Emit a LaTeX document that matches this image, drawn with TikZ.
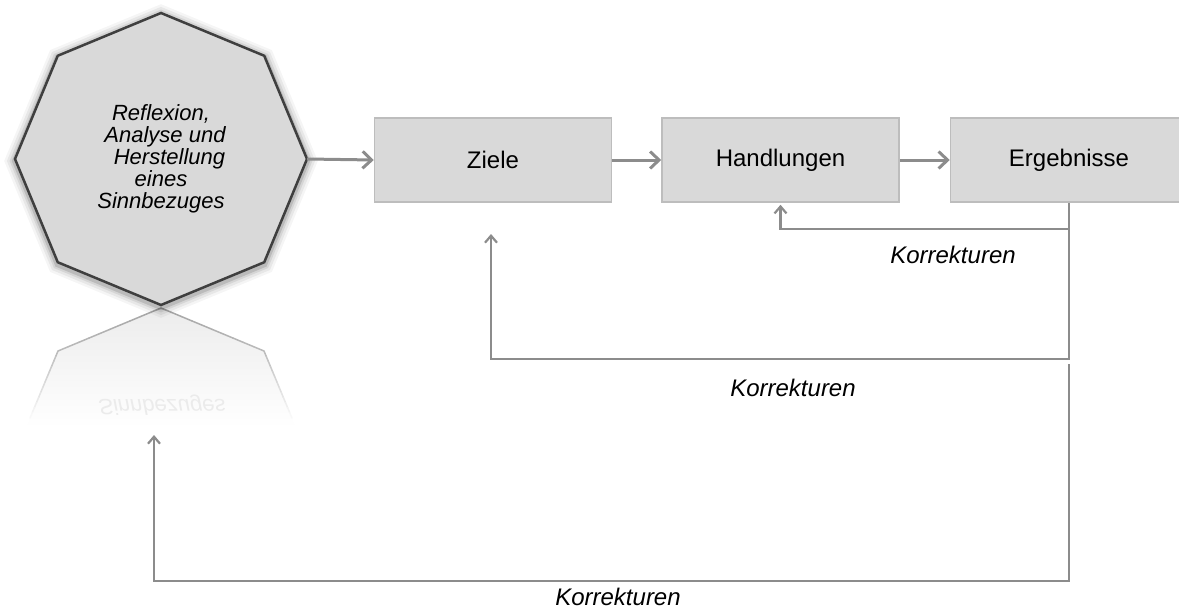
\documentclass[tikz,border=0pt]{standalone}
\usepackage{fontspec}
\setmainfont{Liberation Sans}
\usetikzlibrary{arrows.meta,shapes.geometric}
\definecolor{boxfill}{HTML}{D9D9D9}
\definecolor{boxline}{HTML}{BDBDBD}
\definecolor{arr}{HTML}{8C8C8C}
\definecolor{octline}{HTML}{3F3F3F}
\definecolor{reflline}{HTML}{A0A0A0}
\definecolor{reflfill}{HTML}{ECECEC}
\definecolor{refltext}{HTML}{EBEBEB}
\begin{document}
\begin{tikzpicture}[x=1pt,y=-1pt,
  octo/.style={regular polygon, regular polygon sides=8, shape border rotate=22.5,
    minimum size=292pt, inner sep=0pt, outer sep=0pt},
  stepbox/.style={draw=boxline, line width=1.5pt, fill=boxfill, minimum width=237pt,
    minimum height=84pt, inner sep=0pt, font=\fontsize{24}{28}\selectfont},
  mainarrow/.style={draw=arr, line width=3pt, -{Straight Barb[length=9pt,width=17pt]}},
  fb/.style={draw=arr, line width=2.2pt, -{Straight Barb[length=7pt,width=12pt]}},
  korr/.style={font=\fontsize{24}{28}\selectfont\itshape, inner sep=0pt}]
\useasboundingbox (0,0) rectangle (1179,610);

% reflection of the octagon
\begin{scope}
  \clip (161,308) -- (264,351) -- (307,454) -- (264,557) -- (161,600) -- (58,557) -- (15,454) -- (58,351) -- cycle;
  \shade[top color=reflfill, bottom color=white] (0,308) rectangle (330,428);
\end{scope}
\foreach \t in {0,0.1,...,0.95}{
  \pgfmathsetmacro\pc{95-25*\t}
  \draw[reflline!\pc!white, line width=1.5pt, line cap=round]
    ({161-103*\t},{308+43*\t}) -- ({161-103*(\t+0.1)},{308+43*(\t+0.1)});
  \draw[reflline!\pc!white, line width=1.5pt, line cap=round]
    ({161+103*\t},{308+43*\t}) -- ({161+103*(\t+0.1)},{308+43*(\t+0.1)});
}
\foreach \t in {0,0.05,...,0.64}{
  \pgfmathsetmacro\pc{max(0,70-105*\t)}
  \draw[reflline!\pc!white, line width=1.5pt, line cap=round]
    ({58-43*\t},{351+103*\t}) -- ({58-43*(\t+0.05)},{351+103*(\t+0.05)});
  \draw[reflline!\pc!white, line width=1.5pt, line cap=round]
    ({264+43*\t},{351+103*\t}) -- ({264+43*(\t+0.05)},{351+103*(\t+0.05)});
}
\node[yscale=-1, text=refltext, inner sep=0pt, font=\fontsize{22}{22}\selectfont\itshape] (refl) at (162,405) {Sinnbezuges};

% shadow of octagon
\foreach \w/\o in {20/0.04, 15/0.06, 10/0.08, 6/0.12}
  \node[octo, draw=black, draw opacity=\o, line width=\w pt] at (161,161) {};

% octagon
\node[octo, draw=octline, line width=2.5pt, fill=boxfill, align=center,
  font=\fontsize{22}{22}\selectfont\itshape] (oct) at (161,159)
  {Reflexion,\\\hspace*{8pt}Analyse und\\\hspace*{17pt}Herstellung\\eines\\Sinnbezuges};

% boxes
\node[stepbox] (ziele) at (493,160) {Ziele};
\node[stepbox] (hand) at (780.5,160) {Handlungen};
\node[stepbox] (erg) at (1069,160) {Ergebnisse};

% main arrows
\draw[mainarrow] (oct.east) -- (ziele.west);
\draw[mainarrow] (ziele.east) -- (hand.west);
\draw[mainarrow] (hand.east) -- (erg.west);

% feedback coordinates
\coordinate (c1) at (1069,229);
\coordinate (c2) at (1069,359);
\coordinate (c3) at (1069,364);
\coordinate (c4) at (1069,581);
\coordinate (zt) at (491,234);
\coordinate (ot) at (154,435);

\draw[fb, shorten >=2pt] (erg.south) -- (c1) -| (hand.south);
\draw[fb] (c1) -- (c2) -| (zt);
\draw[fb] (c3) -- (c4) -| (ot);

% labels
\node[korr] (k1) at (953,255) {Korrekturen};
\node[korr] (k2) at (793,388) {Korrekturen};
\node[korr] (k3) at (618,597) {Korrekturen};
\end{tikzpicture}
\end{document}
